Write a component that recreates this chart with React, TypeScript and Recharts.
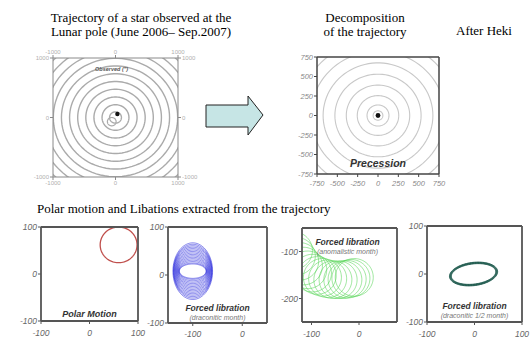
import React from 'react';
import { ComposedChart, Line, XAxis, YAxis } from 'recharts';

// Observed trajectory rings (arcsec-ish units), centre of the spiral
const OBS_RING_RADII = [95, 215, 345, 475, 605, 735, 865, 995, 1125, 1255, 1385];
const OBS_CORE = [{ cx: -60, cy: -70, r: 70 }];
const OBS_STAR = [{ x: 30, y: 60 }];

// Precession component
const PREC_RING_RADII = [60, 135, 255, 390, 530, 675, 825, 975];
const PREC_STAR = [{ x: 0, y: 0 }];

// Polar motion circle
const POLAR_CIRCLE = [{ cx: 60, cy: 62, r: 38 }];

// Forced libration, draconitic month: family of ellipses
const DRAC_RX = [27, 27.5, 28, 29, 30, 31, 32, 33, 34, 35, 36, 37, 38, 38.5, 39, 40];
const DRAC_RY = [15, 17, 20, 23, 26, 29, 32, 35, 38, 41, 44, 47, 50, 53, 56, 59];
const DRAC_CENTER = { cx: -100, cy: 8 };

// Forced libration, anomalistic month: drifting circles
const ANOM_CX = [-138, -132, -125, -117, -108, -98, -88, -77, -66, -55, -44, -34, -25, -17, -10];
const ANOM_CY = [-98, -110, -121, -131, -139, -146, -151, -155, -158, -160, -160, -160, -159, -157, -155];
const ANOM_R = 40;

// Forced libration, draconitic 1/2 month
const HALF_RX = [47, 48, 49, 50, 51];
const HALF_RY = [21, 21.8, 22.6, 23.4, 24.2];
const HALF_CENTER = { cx: -2, cy: 0, tilt: 7 };

type Pt = { x: number; y: number };
type Curve = { pts: Pt[]; color: string; width: number; dot?: boolean; opacity?: number };

const ellipse = (cx: number, cy: number, rx: number, ry: number, rotDeg = 0, n = 90): Pt[] => {
  const rot = (rotDeg * Math.PI) / 180;
  const out: Pt[] = [];
  for (let i = 0; i <= n; i++) {
    const t = (i / n) * Math.PI * 2;
    const ex = rx * Math.cos(t);
    const ey = ry * Math.sin(t);
    out.push({ x: cx + ex * Math.cos(rot) - ey * Math.sin(rot), y: cy + ex * Math.sin(rot) + ey * Math.cos(rot) });
  }
  return out;
};

interface PanelProps {
  x0: number; x1: number; y0: number; y1: number;
  pad: { l: number; r: number; t: number; b: number };
  xDomain: [number, number]; yDomain: [number, number];
  xTicks: number[]; yTicks: number[];
  curves: Curve[];
  frame: string; frameWidth: number;
  tickFont: any;
  labelsAll?: boolean;
  xMargin?: number;
}

function Panel({ x0, x1, y0, y1, pad, xDomain, yDomain, xTicks, yTicks, curves, frame, frameWidth, tickFont, labelsAll, xMargin = 1 }: PanelProps) {
  const w = x1 - x0 + pad.l + pad.r;
  const h = y1 - y0 + pad.t + pad.b;
  const line = { stroke: frame, strokeWidth: frameWidth };
  const tl = { stroke: frame, strokeWidth: 1 };
  return (
    <div style={{ position: 'absolute', left: x0 - pad.l, top: y0 - pad.t }}>
      <ComposedChart width={w} height={h} margin={{ top: 0, right: 0, bottom: 0, left: 0 }}>
        <XAxis xAxisId="b" orientation="bottom" type="number" dataKey="x" domain={xDomain} ticks={xTicks}
          allowDataOverflow height={pad.b} axisLine={line} tickLine={tl} tickSize={3} tickMargin={xMargin} tick={tickFont} interval={0} />
        <XAxis xAxisId="t" orientation="top" type="number" dataKey="x" domain={xDomain} ticks={xTicks}
          allowDataOverflow height={pad.t} axisLine={line} tickLine={tl} tickSize={3} tickMargin={1} tick={labelsAll ? tickFont : false} interval={0} />
        <YAxis yAxisId="l" orientation="left" type="number" dataKey="y" domain={yDomain} ticks={yTicks}
          allowDataOverflow width={pad.l} axisLine={line} tickLine={tl} tickSize={3} tickMargin={1} tick={tickFont} interval={0} />
        <YAxis yAxisId="r" orientation="right" type="number" dataKey="y" domain={yDomain} ticks={yTicks}
          allowDataOverflow width={pad.r} axisLine={line} tickLine={tl} tickSize={3} tickMargin={1} tick={labelsAll ? tickFont : false} interval={0} />
        {curves.map((c, i) => (
          <Line key={i} xAxisId="b" yAxisId="l" data={c.pts} dataKey="y" type="linear"
            stroke={c.dot ? 'none' : c.color} strokeWidth={c.width} strokeOpacity={c.opacity ?? 1}
            dot={c.dot ? { r: c.width, fill: c.color, stroke: 'none' } : false}
            activeDot={false} isAnimationActive={false} />
        ))}
      </ComposedChart>
    </div>
  );
}

const serif = { fontFamily: '"Liberation Serif", "Times New Roman", serif', fontSize: 13, color: '#000', lineHeight: '14px' };
const sansBI = { fontFamily: '"Liberation Sans", Arial, sans-serif', fontWeight: 'bold' as const, fontStyle: 'italic' as const };

export default function App() {
  const obsCurves: Curve[] = [
    ...OBS_RING_RADII.map(r => ({ pts: ellipse(0, 0, r, r), color: '#ababab', width: 1.4 })),
    ...OBS_CORE.map(c => ({ pts: ellipse(c.cx, c.cy, c.r, c.r), color: '#ababab', width: 1.2 })),
    { pts: OBS_STAR, color: '#111', width: 2.2, dot: true },
  ];
  const precCurves: Curve[] = [
    ...PREC_RING_RADII.map(r => ({ pts: ellipse(0, 0, r, r), color: '#c8c8c8', width: 1.1 })),
    { pts: PREC_STAR, color: '#111', width: 2.4, dot: true },
  ];
  const polarCurves: Curve[] = POLAR_CIRCLE.map(c => ({ pts: ellipse(c.cx, c.cy, c.r, c.r), color: '#c0504d', width: 1.3 }));
  const dracCurves: Curve[] = DRAC_RX.map((rx, i) => ({
    pts: ellipse(DRAC_CENTER.cx, DRAC_CENTER.cy, rx, DRAC_RY[i], 0, 120), color: '#3333dd', width: 0.7, opacity: 0.85,
  }));
  const anomCurves: Curve[] = ANOM_CX.map((cx, i) => ({
    pts: ellipse(cx, ANOM_CY[i], ANOM_R, ANOM_R, 0, 90), color: '#4fd24f', width: 0.6, opacity: 0.9,
  }));
  const halfCurves: Curve[] = HALF_RX.map((rx, i) => ({
    pts: ellipse(HALF_CENTER.cx, HALF_CENTER.cy, rx, HALF_RY[i], HALF_CENTER.tilt, 90), color: '#1f5a4e', width: 0.9,
  }));

  const obsTick = { fontSize: 6, fill: '#b0b0b0', fontFamily: '"Liberation Sans", Arial, sans-serif' };
  const precTick = { fontSize: 7.5, fill: '#888', fontStyle: 'italic', fontFamily: '"Liberation Sans", Arial, sans-serif' };
  const botTick = { fontSize: 8.5, fill: '#666', fontStyle: 'italic', fontFamily: '"Liberation Sans", Arial, sans-serif' };
  const botPad = { l: 22, r: 12, t: 5, b: 20 };

  return (
    <div style={{ position: 'absolute', left: 0, top: 0, width: 531, height: 338, background: '#fff', overflow: 'hidden' }}>
      <div style={{ ...serif, position: 'absolute', left: 0, width: 282, top: 11, textAlign: 'center' }}>
        Trajectory of a star observed at the<br />Lunar pole (June 2006– Sep.2007)
      </div>
      <div style={{ ...serif, position: 'absolute', left: 300, width: 130, top: 11, textAlign: 'center' }}>
        Decomposition<br />of the trajectory
      </div>
      <div style={{ ...serif, position: 'absolute', left: 456, top: 24 }}>After Heki</div>
      <div style={{ ...serif, position: 'absolute', left: 37, top: 202 }}>
        Polar motion and Libations extracted from the trajectory
      </div>

      <Panel x0={53} x1={178} y0={58} y1={177} pad={{ l: 30, r: 30, t: 14, b: 14 }}
        xDomain={[-1000, 1000]} yDomain={[-1000, 1000]} xTicks={[-1000, 0, 1000]} yTicks={[-1000, 0, 1000]}
        curves={obsCurves} frame="#8a8a8a" frameWidth={1} tickFont={obsTick} labelsAll />
      <div style={{ ...sansBI, position: 'absolute', left: 95, top: 66, fontSize: 5.5, color: '#555' }}>Observed (")</div>

      <svg width={70} height={60} style={{ position: 'absolute', left: 200, top: 88 }}>
        <polygon points="6,17 48,17 48,8 63,27 48,47 48,39 6,39" fill="#c6e5e5" stroke="#222" strokeWidth={1} />
      </svg>

      <Panel x0={317} x1={439} y0={57} y1={174} pad={{ l: 26, r: 12, t: 6, b: 17 }}
        xDomain={[-750, 750]} yDomain={[-750, 750]}
        xTicks={[-750, -500, -250, 0, 250, 500, 750]} yTicks={[-750, -500, -250, 0, 250, 500, 750]}
        curves={precCurves} frame="#444" frameWidth={1.5} tickFont={precTick} xMargin={4} />
      <div style={{ ...sansBI, position: 'absolute', left: 317, width: 122, top: 157, textAlign: 'center', fontSize: 10.5, color: '#333' }}>Precession</div>

      <Panel x0={41} x1={138} y0={227} y1={321} pad={botPad}
        xDomain={[-100, 100]} yDomain={[-100, 100]} xTicks={[-100, 0, 100]} yTicks={[-100, 0, 100]}
        curves={polarCurves} frame="#555" frameWidth={1.8} tickFont={botTick} xMargin={6} />
      <div style={{ ...sansBI, position: 'absolute', left: 41, width: 97, top: 309, textAlign: 'center', fontSize: 9, color: '#333' }}>Polar Motion</div>

      <Panel x0={168} x1={267} y0={227} y1={323} pad={botPad}
        xDomain={[-150, 50]} yDomain={[-100, 100]} xTicks={[-100, 0]} yTicks={[-100, 0, 100]}
        curves={dracCurves} frame="#555" frameWidth={1.8} tickFont={botTick} xMargin={5} />
      <div style={{ ...sansBI, position: 'absolute', left: 168, width: 99, top: 304, textAlign: 'center', fontSize: 8.5, color: '#333', lineHeight: '9px' }}>
        Forced libration<br /><span style={{ fontWeight: 'normal', fontSize: 7, color: '#777' }}>(draconitic month)</span>
      </div>

      <Panel x0={302} x1={397} y0={228} y1={322} pad={botPad}
        xDomain={[-120, 80]} yDomain={[-250, -50]} xTicks={[-100, 0]} yTicks={[-200, -100]}
        curves={anomCurves} frame="#555" frameWidth={1.8} tickFont={botTick} xMargin={6} />
      <div style={{ ...sansBI, position: 'absolute', left: 300, width: 95, top: 238, textAlign: 'center', fontSize: 8.5, color: '#333', lineHeight: '9px' }}>
        Forced libration<br /><span style={{ fontWeight: 'normal', fontSize: 7, color: '#777' }}>(anomalistic month)</span>
      </div>

      <Panel x0={427} x1={522} y0={226} y1={322} pad={{ l: 22, r: 9, t: 5, b: 20 }}
        xDomain={[-100, 100]} yDomain={[-100, 100]} xTicks={[-100, 0, 100]} yTicks={[-100, 0, 100]}
        curves={halfCurves} frame="#555" frameWidth={1.8} tickFont={botTick} xMargin={6} />
      <div style={{ ...sansBI, position: 'absolute', left: 427, width: 95, top: 302, textAlign: 'center', fontSize: 8.5, color: '#333', lineHeight: '9px' }}>
        Forced libration<br /><span style={{ fontWeight: 'normal', fontSize: 7, color: '#777' }}>(draconitic 1/2 month)</span>
      </div>
    </div>
  );
}
